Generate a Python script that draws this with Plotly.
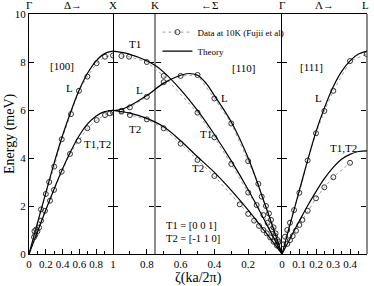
import plotly.graph_objects as go

# ---------------- data ----------------
# Gamma-X  [100]  (Delta), zeta 0..1
d_L_z = [0.065, 0.085, 0.143, 0.20, 0.24, 0.30, 0.39, 0.50, 0.595, 0.695, 0.805, 0.905, 1.0]
d_L_e = [0.95, 1.02, 1.86, 2.50, 3.00, 3.64, 4.78, 5.83, 6.80, 7.39, 7.95, 8.22, 8.27]
d_T_z = [0.06, 0.075, 0.10, 0.12, 0.143, 0.19, 0.25, 0.298, 0.389, 0.488, 0.59, 0.694, 0.806, 0.905, 0.964, 1.0]
d_T_e = [0.70, 0.80, 0.95, 1.10, 1.39, 1.80, 2.22, 2.67, 3.43, 4.17, 4.72, 5.24, 5.58, 5.79, 5.86, 5.90]
th_dL_z = [0, 0.1, 0.2, 0.3, 0.4, 0.5, 0.6, 0.7, 0.8, 0.9, 1.0]
th_dL_e = [0, 1.28, 2.55, 3.80, 4.95, 5.95, 6.85, 7.55, 8.05, 8.35, 8.45]
th_dT_z = [0, 0.1, 0.2, 0.3, 0.4, 0.5, 0.6, 0.7, 0.8, 0.9, 1.0]
th_dT_e = [0, 0.92, 1.83, 2.72, 3.55, 4.30, 4.95, 5.43, 5.75, 5.93, 5.98]

# X-K-Gamma  [110]  (Sigma), zeta 1..0
s_T1_z = [0.95, 0.905, 0.80, 0.70, 0.50, 0.40, 0.30, 0.20, 0.15, 0.11, 0.085, 0.06, 0.04, 0.022]
s_T1_e = [8.25, 8.22, 8.00, 7.42, 5.89, 4.86, 3.75, 2.56, 2.04, 1.62, 1.30, 1.03, 0.75, 0.51]
s_L_z = [0.95, 0.90, 0.80, 0.70, 0.60, 0.50, 0.40, 0.30, 0.20, 0.14, 0.12, 0.095, 0.077, 0.065, 0.05, 0.038, 0.025, 0.012]
s_L_e = [5.97, 6.11, 6.55, 7.16, 7.42, 7.46, 6.48, 5.44, 3.87, 2.92, 2.39, 2.00, 1.69, 1.42, 1.11, 0.86, 0.58, 0.33]
s_T2_z = [0.95, 0.90, 0.80, 0.70, 0.60, 0.50, 0.40, 0.25, 0.20, 0.165, 0.136, 0.11, 0.09, 0.07, 0.05, 0.03]
s_T2_e = [5.93, 5.79, 5.61, 5.24, 4.60, 3.92, 3.25, 2.07, 1.67, 1.39, 1.17, 1.00, 0.86, 0.69, 0.51, 0.35]
th_sT1_z = [1.0, 0.9, 0.8, 0.75, 0.7, 0.6, 0.5, 0.4, 0.3, 0.2, 0.1, 0]
th_sT1_e = [8.45, 8.32, 8.05, 7.85, 7.58, 6.85, 5.98, 4.98, 3.88, 2.68, 1.36, 0]
th_sL_z = [1.0, 0.95, 0.9, 0.8, 0.7, 0.6, 0.55, 0.5, 0.45, 0.4, 0.3, 0.2, 0.1, 0]
th_sL_e = [5.98, 6.03, 6.18, 6.60, 7.12, 7.45, 7.52, 7.45, 7.12, 6.60, 5.50, 4.00, 2.05, 0]
th_sT2_z = [1.0, 0.9, 0.8, 0.7, 0.6, 0.5, 0.4, 0.3, 0.2, 0.1, 0]
th_sT2_e = [5.98, 5.87, 5.65, 5.30, 4.72, 4.05, 3.40, 2.65, 1.83, 0.93, 0]

# Gamma-L  [111]  (Lambda), zeta 0..0.5
l_L_z = [0.008, 0.018, 0.031, 0.047, 0.071, 0.102, 0.151, 0.20, 0.249, 0.302, 0.40, 0.498]
l_L_e = [0.40, 0.72, 1.00, 1.30, 1.83, 2.55, 3.90, 5.03, 5.96, 6.80, 8.04, 8.33]
l_T_z = [0.031, 0.047, 0.063, 0.082, 0.102, 0.12, 0.151, 0.20, 0.249, 0.302, 0.40]
l_T_e = [0.42, 0.58, 0.75, 0.97, 1.21, 1.42, 1.80, 2.32, 2.78, 3.20, 3.80]
th_lL_z = [0, 0.1, 0.2, 0.25, 0.3, 0.35, 0.4, 0.45, 0.5]
th_lL_e = [0, 2.60, 5.10, 6.10, 6.95, 7.60, 8.05, 8.33, 8.45]
th_lT_z = [0, 0.05, 0.1, 0.15, 0.2, 0.25, 0.3, 0.35, 0.4, 0.45, 0.5]
th_lT_e = [0, 0.68, 1.35, 2.00, 2.60, 3.15, 3.60, 3.95, 4.15, 4.27, 4.30]

# ---------------- figure ----------------
FONT = "Liberation Serif, Times New Roman, Times, serif"
fig = go.Figure()

data_style = dict(mode="lines+markers",
                  line=dict(color="#a0a0a0", dash="dot", width=1),
                  marker=dict(symbol="circle-open", size=5, color="#333333", line=dict(width=1)))
th_style = dict(mode="lines", line=dict(color="black", width=1.2, shape="spline"))

first_data = True
first_th = True
def add_data(z, e, xa, ya):
    global first_data
    fig.add_trace(go.Scatter(x=z, y=e, xaxis=xa, yaxis=ya, name="Data at 10K (Fujii et al)",
                             showlegend=first_data, **data_style))
    first_data = False
def add_th(z, e, xa, ya):
    global first_th
    fig.add_trace(go.Scatter(x=z, y=e, xaxis=xa, yaxis=ya, name="Theory",
                             showlegend=first_th, **th_style))
    first_th = False

add_data(d_L_z, d_L_e, "x", "y")
add_th(th_dL_z, th_dL_e, "x", "y")
add_data(d_T_z, d_T_e, "x", "y")
add_th(th_dT_z, th_dT_e, "x", "y")
add_data(s_T1_z, s_T1_e, "x2", "y2")
add_data(s_L_z, s_L_e, "x2", "y2")
add_data(s_T2_z, s_T2_e, "x2", "y2")
add_th(th_sT1_z, th_sT1_e, "x2", "y2")
add_th(th_sL_z, th_sL_e, "x2", "y2")
add_th(th_sT2_z, th_sT2_e, "x2", "y2")
add_data(l_L_z, l_L_e, "x3", "y3")
add_data(l_T_z, l_T_e, "x3", "y3")
add_th(th_lL_z, th_lL_e, "x3", "y3")
add_th(th_lT_z, th_lT_e, "x3", "y3")

# empty helper traces so the extra (frame) axes get drawn
for ya in ["y4", "y5", "y6"]:
    fig.add_trace(go.Scatter(x=[], y=[], xaxis="x", yaxis=ya, showlegend=False, hoverinfo="skip"))

d1 = 84 / 338
d2 = 253 / 338
K_pos = d1 + (1 - 0.75) * (d2 - d1)

tickfont = dict(family=FONT, size=11, color="black")
xcommon = dict(showline=True, linecolor="black", linewidth=1, mirror=True, ticks="inside",
               ticklen=5, tickcolor="black", showgrid=False, zeroline=False, tickfont=tickfont,
               automargin=False)
ycommon = dict(range=[0, 10], linecolor="black", linewidth=1, ticks="inside",
               ticklen=5, tickcolor="black", showgrid=False, zeroline=False, tickfont=tickfont,
               tickvals=[0, 2, 4, 6, 8, 10], automargin=False)
frame = dict(range=[0, 10], overlaying="y", anchor="free", showline=True, linecolor="#8c8c8c",
             linewidth=2, ticklen=5, tickcolor="black", showticklabels=False, showgrid=False,
             zeroline=False, tickvals=[2, 4, 6, 8], automargin=False)

fig.update_layout(
    width=374, height=286,
    margin=dict(l=29, r=7, t=14, b=32, autoexpand=False),
    paper_bgcolor="white", plot_bgcolor="white",
    font=dict(family=FONT, color="black"),
    xaxis=dict(domain=[0, d1], range=[0, 1], anchor="y", tickvals=[0, 0.2, 0.4, 0.6, 0.8, 1.0],
               ticktext=["0", "0.2", "0.4", "0.6", "0.8", "1"],
               minor=dict(dtick=0.1, ticks="inside", ticklen=3, tickcolor="black"), **xcommon),
    xaxis2=dict(domain=[d1, d2], range=[1, 0], anchor="y2", tickvals=[0.8, 0.6, 0.4, 0.2],
                ticktext=["0.8", "0.6", "0.4", "0.2"],
                minor=dict(tickvals=[0.9, 0.7, 0.5, 0.3, 0.1], ticks="inside", ticklen=3, tickcolor="black"),
                **xcommon),
    xaxis3=dict(domain=[d2, 1], range=[0, 0.5], anchor="y3", tickvals=[0, 0.1, 0.2, 0.3, 0.4, 0.5],
                ticktext=["0", "0.1", "0.2", "0.3", "0.4", "0.5"],
                minor=dict(dtick=0.05, ticks="inside", ticklen=3, tickcolor="black"), **xcommon),
    yaxis=dict(domain=[0, 1], anchor="x", mirror="ticks", showline=True, **ycommon),
    yaxis2=dict(domain=[0, 1], anchor="x2", mirror="ticks", showline=False, showticklabels=False, **ycommon),
    yaxis3=dict(domain=[0, 1], anchor="x3", mirror=False, showline=True, showticklabels=False, **ycommon),
    yaxis4=dict(position=1.0, side="right", ticks="inside", **frame),
    yaxis5=dict(position=K_pos, side="left", ticks="inside", **frame),
    yaxis6=dict(position=K_pos, side="left", ticks="outside", **frame),
    legend=dict(x=0.38, y=0.985, xanchor="left", yanchor="top", bgcolor="rgba(0,0,0,0)",
                font=dict(family=FONT, size=9, color="black"), itemwidth=30, tracegroupgap=0),
    showlegend=True,
)

ann = []
def note(text, x, y, xref, yref="y", size=11, **kw):
    ann.append(dict(text=text, x=x, y=y, xref=xref, yref=yref, showarrow=False,
                    font=dict(family=FONT, size=size, color="black"), **kw))

# top labels
for t, x, xr in [("Γ", 0, "x"), ("Δ→", 0.52, "x"), ("X", 1.0, "x"), ("K", 0.75, "x2"),
                 ("←Σ", 0.43, "x2"), ("Γ", 0, "x3"), ("Λ→", 0.25, "x3"), ("L", 0.49, "x3")]:
    note(t, x, 1.0, xr, yref="paper", size=11, yanchor="middle", yshift=9)

note("[100]", 0.39, 7.83, "x")
note("L", 0.48, 6.9, "x")
note("T1,T2", 0.81, 4.6, "x")
note("T1", 0.87, 8.75, "x2")
note("L", 0.845, 6.83, "x2")
note("T2", 0.87, 5.2, "x2")
note("[110]", 0.23, 7.75, "x2")
note("L", 0.34, 6.5, "x2")
note("T1", 0.45, 5.0, "x2")
note("T2", 0.50, 3.57, "x2")
note("T1 = [0 0 1]", 0.70, 1.2, "x2", xanchor="left", size=10.5)
note("T2 = [-1 1 0]", 0.70, 0.66, "x2", xanchor="left", size=10.5)
note("[111]", 0.171, 7.8, "x3")
note("L", 0.214, 6.5, "x3")
note("T1,T2", 0.36, 4.42, "x3")

ann.append(dict(text="ζ(ka/2π)", x=0.5, y=0, xref="paper", yref="paper", yshift=-24,
                showarrow=False, yanchor="middle", font=dict(family=FONT, size=14, color="black")))
ann.append(dict(text="Energy (meV)", x=0, y=0.5, xref="paper", yref="paper", xshift=-19,
                showarrow=False, textangle=-90, xanchor="center",
                font=dict(family=FONT, size=14, color="black")))
fig.update_layout(annotations=ann)

fig.write_html("out.html", config={"displayModeBar": False},
               post_script="document.body.style.margin='0';document.body.style.padding='0';")
